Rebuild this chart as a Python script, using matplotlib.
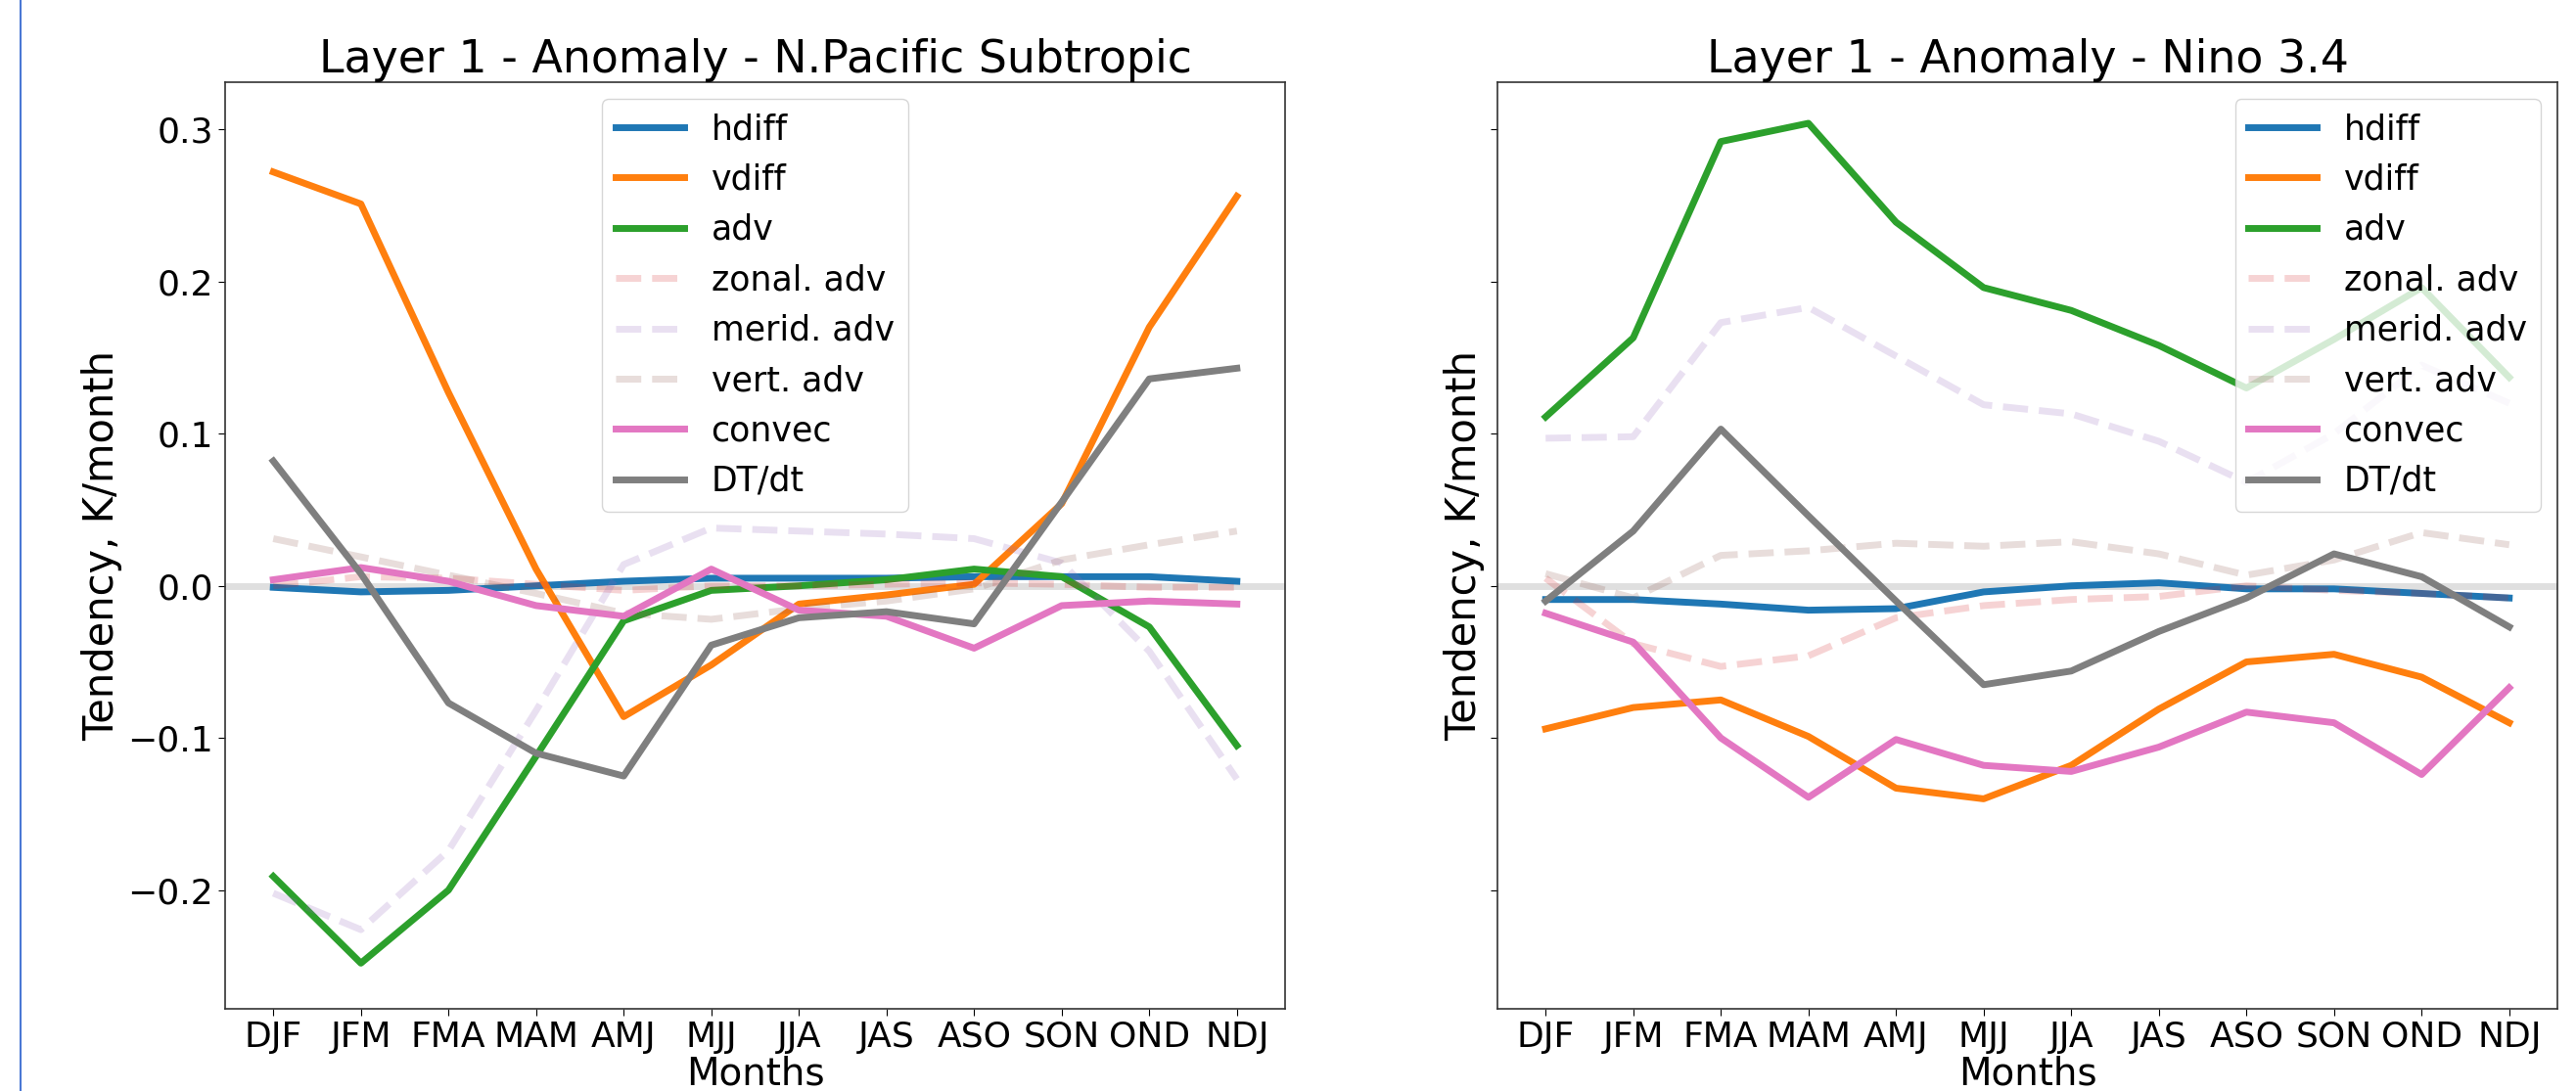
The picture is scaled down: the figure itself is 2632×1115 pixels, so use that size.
import matplotlib
matplotlib.use("Agg")
import matplotlib.pyplot as plt
from matplotlib.lines import Line2D

months = ["DJF", "JFM", "FMA", "MAM", "AMJ", "MJJ", "JJA", "JAS", "ASO", "SON", "OND", "NDJ"]

# ---- N.Pacific Subtropic ----
np_hdiff = [-0.001, -0.004, -0.003, 0.000, 0.003, 0.005, 0.005, 0.005, 0.006, 0.006, 0.006, 0.003]
np_vdiff = [0.272, 0.251, 0.127, 0.011, -0.086, -0.052, -0.012, -0.006, 0.001, 0.054, 0.170, 0.256]
np_adv = [-0.191, -0.248, -0.200, -0.112, -0.023, -0.003, 0.000, 0.004, 0.011, 0.006, -0.027, -0.105]
np_zonal = [0.000, 0.006, 0.005, 0.001, -0.003, 0.000, 0.000, 0.001, 0.002, 0.001, -0.001, -0.001]
np_merid = [-0.202, -0.226, -0.174, -0.082, 0.014, 0.038, 0.036, 0.034, 0.031, 0.015, -0.043, -0.127]
np_vert = [0.031, 0.019, 0.007, -0.005, -0.018, -0.022, -0.015, -0.010, -0.002, 0.017, 0.027, 0.036]
np_convec = [0.004, 0.012, 0.003, -0.013, -0.020, 0.011, -0.016, -0.020, -0.041, -0.013, -0.010, -0.012]
np_dtdt = [0.082, 0.008, -0.077, -0.110, -0.125, -0.039, -0.021, -0.017, -0.025, 0.055, 0.136, 0.143]

# ---- Nino 3.4 ----
ni_hdiff = [-0.009, -0.009, -0.012, -0.016, -0.015, -0.004, 0.000, 0.002, -0.002, -0.002, -0.005, -0.008]
ni_vdiff = [-0.094, -0.080, -0.075, -0.099, -0.133, -0.140, -0.118, -0.081, -0.050, -0.045, -0.060, -0.090]
ni_adv = [0.111, 0.163, 0.292, 0.304, 0.239, 0.196, 0.181, 0.158, 0.130, 0.162, 0.196, 0.137]
ni_zonal = [0.005, -0.038, -0.053, -0.046, -0.021, -0.013, -0.009, -0.007, 0.000, -0.003, -0.005, -0.008]
ni_merid = [0.097, 0.098, 0.173, 0.183, 0.151, 0.119, 0.113, 0.095, 0.068, 0.100, 0.145, 0.120]
ni_vert = [0.008, -0.008, 0.020, 0.023, 0.028, 0.026, 0.029, 0.021, 0.007, 0.017, 0.035, 0.027]
ni_convec = [-0.018, -0.037, -0.100, -0.139, -0.101, -0.118, -0.122, -0.106, -0.083, -0.090, -0.124, -0.067]
ni_dtdt = [-0.010, 0.036, 0.103, 0.046, -0.010, -0.065, -0.056, -0.030, -0.008, 0.021, 0.006, -0.027]

labels = ["hdiff", "vdiff", "adv", "zonal. adv", "merid. adv", "vert. adv", "convec", "DT/dt"]
titles = ["Layer 1 - Anomaly - N.Pacific Subtropic", "Layer 1 - Anomaly - Nino 3.4"]

panels = [
    [np_hdiff, np_vdiff, np_adv, np_zonal, np_merid, np_vert, np_convec, np_dtdt],
    [ni_hdiff, ni_vdiff, ni_adv, ni_zonal, ni_merid, ni_vert, ni_convec, ni_dtdt],
]
styles = [
    dict(color="C0", ls="-", alpha=1.0),
    dict(color="C1", ls="-", alpha=1.0),
    dict(color="C2", ls="-", alpha=1.0),
    dict(color="C3", ls="--", alpha=0.2),
    dict(color="C4", ls="--", alpha=0.2),
    dict(color="C5", ls="--", alpha=0.2),
    dict(color="C6", ls="-", alpha=1.0),
    dict(color="C7", ls="-", alpha=1.0),
]

plt.rcParams["font.family"] = ["DejaVu Sans"]
fig = plt.figure(figsize=(26.32, 11.15), dpi=100)
W, H = 2632, 1115
ax1 = fig.add_axes([230 / W, 1 - 1031 / H, 1083 / W, (1031 - 84) / H])
ax2 = fig.add_axes([1530 / W, 1 - 1031 / H, 1083 / W, (1031 - 84) / H], sharey=ax1)

x = list(range(len(months)))
for ax, series, title, loc in zip([ax1, ax2], panels, titles, ["upper center", "upper right"]):
    ax.axhline(0, color="gray", alpha=0.25, lw=5, zorder=1)
    for vals, lab, st in zip(series, labels, styles):
        ax.plot(x, vals, lw=5, label=lab, zorder=2, **st)
    ax.set_xticks(x)
    ax.set_xticklabels(months)
    ax.set_title(title, fontsize=33, pad=7)
    ax.set_xlabel("Months", fontsize=28, labelpad=1)
    ax.set_ylabel("Tendency, K/month", fontsize=30)
    ax.tick_params(labelsize=26, length=5)
    ax.legend(loc=loc, fontsize=25)
    for s in ax.spines.values():
        s.set_linewidth(1.2)
        s.set_color("#333333")

ax1.set_ylim(-0.278, 0.331)
ax1.set_yticks([-0.2, -0.1, 0.0, 0.1, 0.2, 0.3])
plt.setp(ax2.get_yticklabels(), visible=False)

fig.add_artist(Line2D([21 / W, 21 / W], [0, 1], color="#4a78d4", lw=1.5))

fig.savefig("out.png", dpi=100)
